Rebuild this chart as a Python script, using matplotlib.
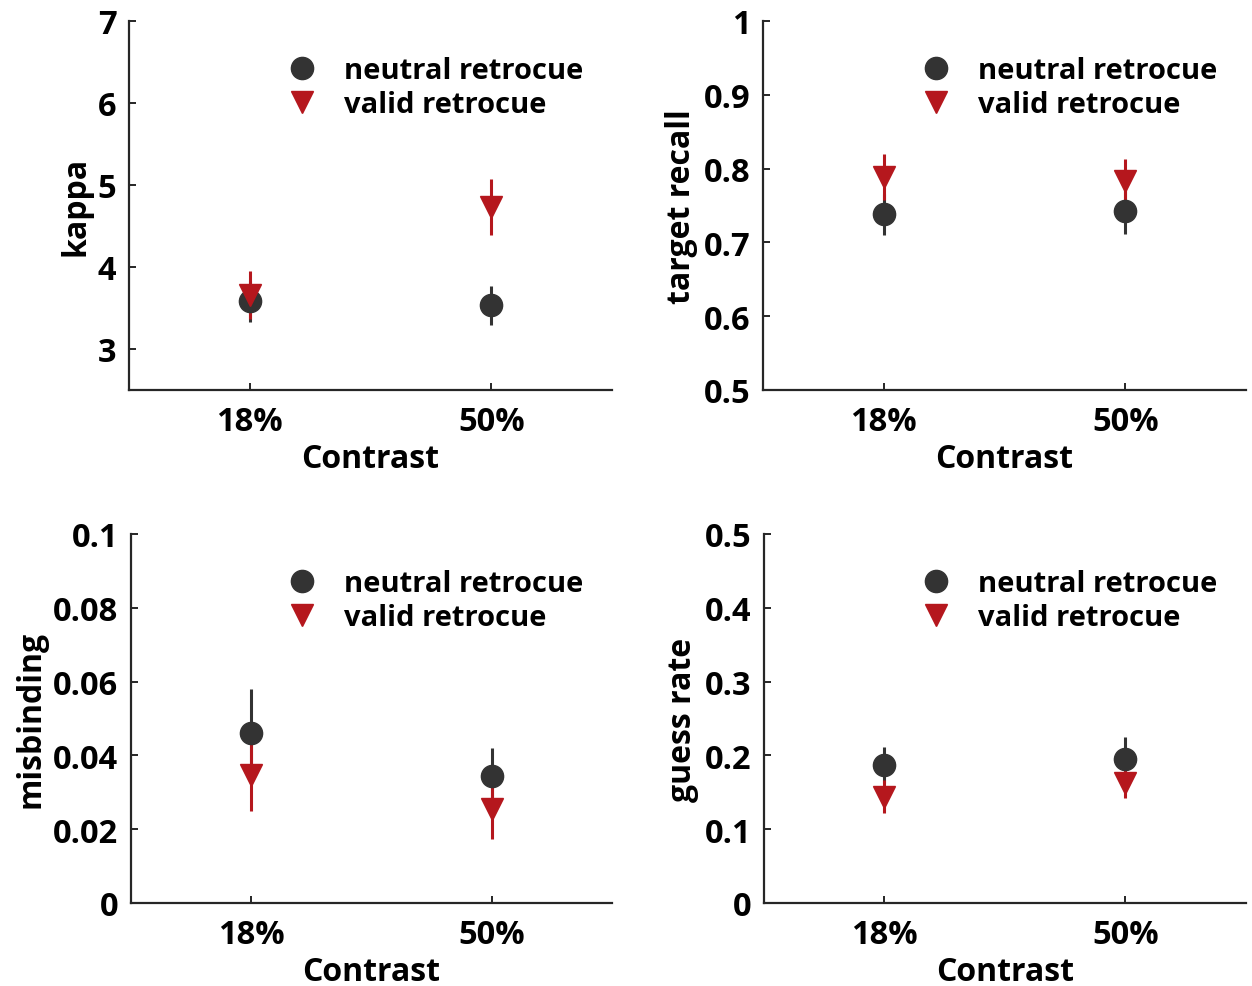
import numpy as np
import matplotlib.pyplot as plt
from matplotlib.lines import Line2D

plt.rcParams['font.family'] = ['Open Sans', 'DejaVu Sans']
plt.rcParams['font.weight'] = 'bold'

contrasts = ['18%', '50%']
series_names = ['neutral retrocue', 'valid retrocue']

# mean and error for each parameter: [18%, 50%]
kappa_neutral = [3.58, 3.53]
kappa_neutral_err = [0.25, 0.24]
kappa_valid = [3.66, 4.73]
kappa_valid_err = [0.29, 0.34]

recall_neutral = [0.738, 0.742]
recall_neutral_err = [0.028, 0.031]
recall_valid = [0.789, 0.783]
recall_valid_err = [0.031, 0.030]

misbind_neutral = [0.046, 0.0344]
misbind_neutral_err = [0.012, 0.0077]
misbind_valid = [0.0347, 0.0255]
misbind_valid_err = [0.0098, 0.0082]

guess_neutral = [0.187, 0.195]
guess_neutral_err = [0.024, 0.030]
guess_valid = [0.144, 0.163]
guess_valid_err = [0.022, 0.021]

panels = [
    ('kappa', kappa_neutral, kappa_neutral_err, kappa_valid, kappa_valid_err,
     (2.5, 7), [3, 4, 5, 6, 7]),
    ('target recall', recall_neutral, recall_neutral_err, recall_valid, recall_valid_err,
     (0.5, 1), [0.5, 0.6, 0.7, 0.8, 0.9, 1]),
    ('misbinding', misbind_neutral, misbind_neutral_err, misbind_valid, misbind_valid_err,
     (0, 0.1), [0, 0.02, 0.04, 0.06, 0.08, 0.1]),
    ('guess rate', guess_neutral, guess_neutral_err, guess_valid, guess_valid_err,
     (0, 0.5), [0, 0.1, 0.2, 0.3, 0.4, 0.5]),
]

positions = [
    [0.1030, 0.6039, 0.3858, 0.3739],
    [0.6094, 0.6039, 0.3858, 0.3739],
    [0.1046, 0.0841, 0.3842, 0.3739],
    [0.6102, 0.0841, 0.3850, 0.3739],
]

col_neutral = '#333333'
col_valid = '#b5171d'

fig = plt.figure(figsize=(12.52, 9.87), dpi=100)
x = np.arange(1, len(contrasts) + 1)

handles = [
    Line2D([], [], ls='none', marker='o', ms=16, color=col_neutral),
    Line2D([], [], ls='none', marker='v', ms=16, color=col_valid),
]

for (ylab, nm, ne, vm, ve, ylim, yticks), pos in zip(panels, positions):
    ax = fig.add_axes(pos)
    ax.errorbar(x, nm, yerr=ne, fmt='o', color=col_neutral, ms=16,
                elinewidth=2.2, capsize=0)
    ax.errorbar(x, vm, yerr=ve, fmt='v', color=col_valid, ms=16,
                elinewidth=2.2, capsize=0)

    ax.set_xlim(0.5, 2.5)
    ax.set_ylim(*ylim)
    ax.set_xticks(x)
    ax.set_xticklabels(contrasts)
    ax.set_yticks(yticks)
    ax.set_yticklabels(['{:g}'.format(t) for t in yticks])
    ax.set_xlabel('Contrast', fontsize=23, fontweight='bold', labelpad=3)
    ax.set_ylabel(ylab, fontsize=23, fontweight='bold')

    for s in ['top', 'right']:
        ax.spines[s].set_visible(False)
    for s in ['left', 'bottom']:
        ax.spines[s].set_linewidth(1.6)
        ax.spines[s].set_color('#262626')
    ax.tick_params(direction='in', length=5, width=1.4, labelsize=23.5,
                   color='#262626', pad=9)
    ax.tick_params(axis='x', pad=11)

    ax.legend(handles, series_names, loc='upper right',
              bbox_to_anchor=(0.995, 0.975), frameon=False, fontsize=21,
              handlelength=1.0, handletextpad=0.95, labelspacing=0.15)

fig.savefig('out.png', dpi=100)
